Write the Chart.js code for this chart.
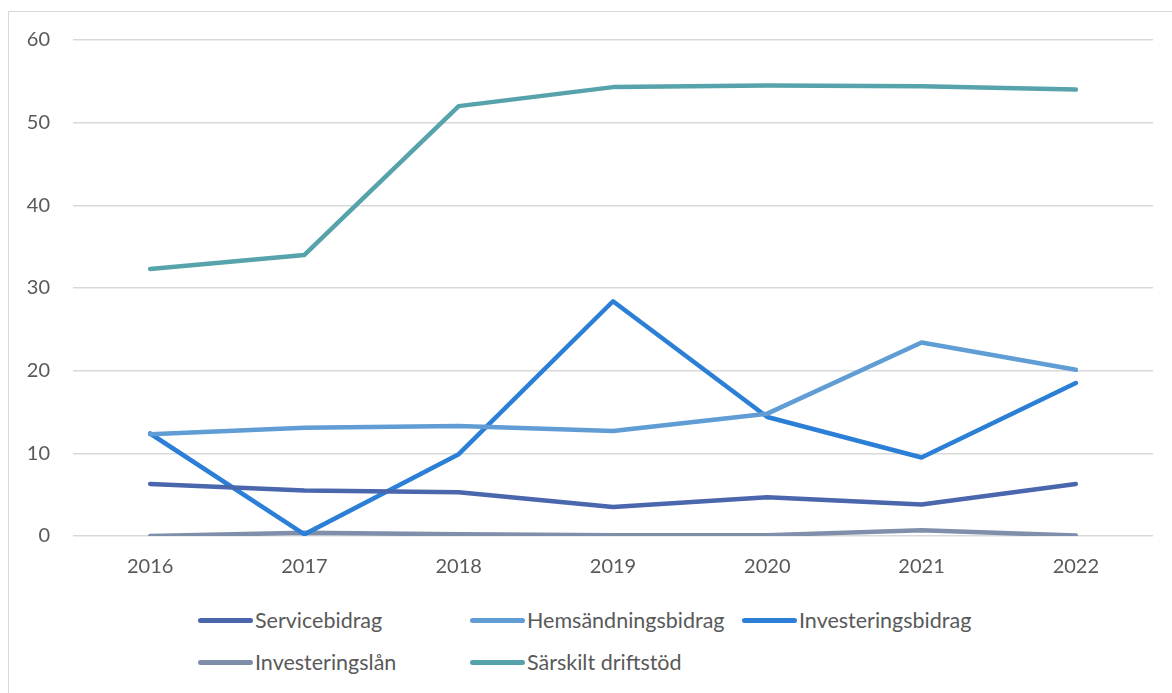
<!DOCTYPE html>
<html>
<head>
<meta charset="utf-8">
<script src="https://cdn.jsdelivr.net/npm/chart.js@4"></script>
<style>
	body { margin: 0; background: #fff; }
	#wrap { position: relative; width: 1172px; height: 693px; overflow: hidden; }
	#frame { position: absolute; left: 8px; top: 11px; width: 1200px; height: 700px; border: 1px solid #d9d9d9; box-sizing: border-box; }
	#chartBox { position: absolute; left: 0; top: 0; width: 1172px; height: 586px; }
	#legend { position: absolute; left: 198px; top: 607px; display: grid; grid-template-columns: 272px 272px 272px; row-gap: 16px; font-family: Lato, "Open Sans", sans-serif; font-size: 21.5px; line-height: 26px; color: #595959; }
	.item { display: flex; align-items: center; white-space: nowrap; }
	.swatch { width: 55px; height: 5px; border-radius: 3px; margin-right: 2px; }
</style>
</head>
<body>
<div id="wrap">
	<div id="frame"></div>
	<div id="chartBox"><canvas id="lineChart"></canvas></div>
	<div id="legend"></div>
</div>
<script>
const years = ["2016", "2017", "2018", "2019", "2020", "2021", "2022"];
const servicebidrag = [6.3, 5.5, 5.3, 3.5, 4.7, 3.8, 6.3];
const hemsandningsbidrag = [12.3, 13.1, 13.3, 12.7, 14.8, 23.4, 20.1];
const investeringsbidrag = [12.4, 0.2, 9.9, 28.4, 14.4, 9.5, 18.5];
const investeringslan = [0.0, 0.4, 0.2, 0.1, 0.1, 0.7, 0.05];
const sarskiltDriftstod = [32.3, 34.0, 52.0, 54.3, 54.5, 54.4, 54.0];

const series = [
	{ label: "Servicebidrag", data: servicebidrag, color: "#4a66ad" },
	{ label: "Hemsändningsbidrag", data: hemsandningsbidrag, color: "#5f9dd4" },
	{ label: "Investeringsbidrag", data: investeringsbidrag, color: "#2b7fd6" },
	{ label: "Investeringslån", data: investeringslan, color: "#7f8ea9" },
	{ label: "Särskilt driftstöd", data: sarskiltDriftstod, color: "#57a3ab" }
];

const font = { family: "Lato, 'Open Sans', sans-serif", size: 20 };

const chart = new Chart(document.getElementById("lineChart"), {
	type: "line",
	data: {
		labels: years,
		datasets: series.map(s => ({
			label: s.label,
			data: s.data,
			borderColor: s.color,
			backgroundColor: s.color,
			borderWidth: 4.5,
			borderCapStyle: "round",
			borderJoinStyle: "round",
			pointRadius: 0,
			tension: 0
		}))
	},
	options: {
		responsive: true,
		maintainAspectRatio: false,
		animation: false,
		layout: { padding: { top: 40, right: 19, left: 0, bottom: 0 } },
		plugins: {
			legend: { display: false },
			tooltip: { enabled: false }
		},
		scales: {
			x: {
				offset: true,
				grid: { display: false, drawTicks: false },
				border: { display: false },
				ticks: { color: "#595959", font: font, padding: 19, maxRotation: 0 },
				afterFit: s => { s.height = 50; }
			},
			y: {
				min: 0,
				max: 60,
				ticks: { stepSize: 10, color: "#595959", font: font, padding: 23 },
				grid: { color: "#d9d9d9", lineWidth: 1.5, drawTicks: false },
				border: { display: false },
				afterFit: s => { s.width = 73; }
			}
		}
	}
});

// legend built from the chart's datasets
const legendEl = document.getElementById("legend");
chart.data.datasets.forEach(ds => {
	const item = document.createElement("div");
	item.className = "item";
	const sw = document.createElement("span");
	sw.className = "swatch";
	sw.style.background = ds.borderColor;
	const txt = document.createElement("span");
	txt.textContent = ds.label;
	item.appendChild(sw);
	item.appendChild(txt);
	legendEl.appendChild(item);
});
</script>
</body>
</html>
